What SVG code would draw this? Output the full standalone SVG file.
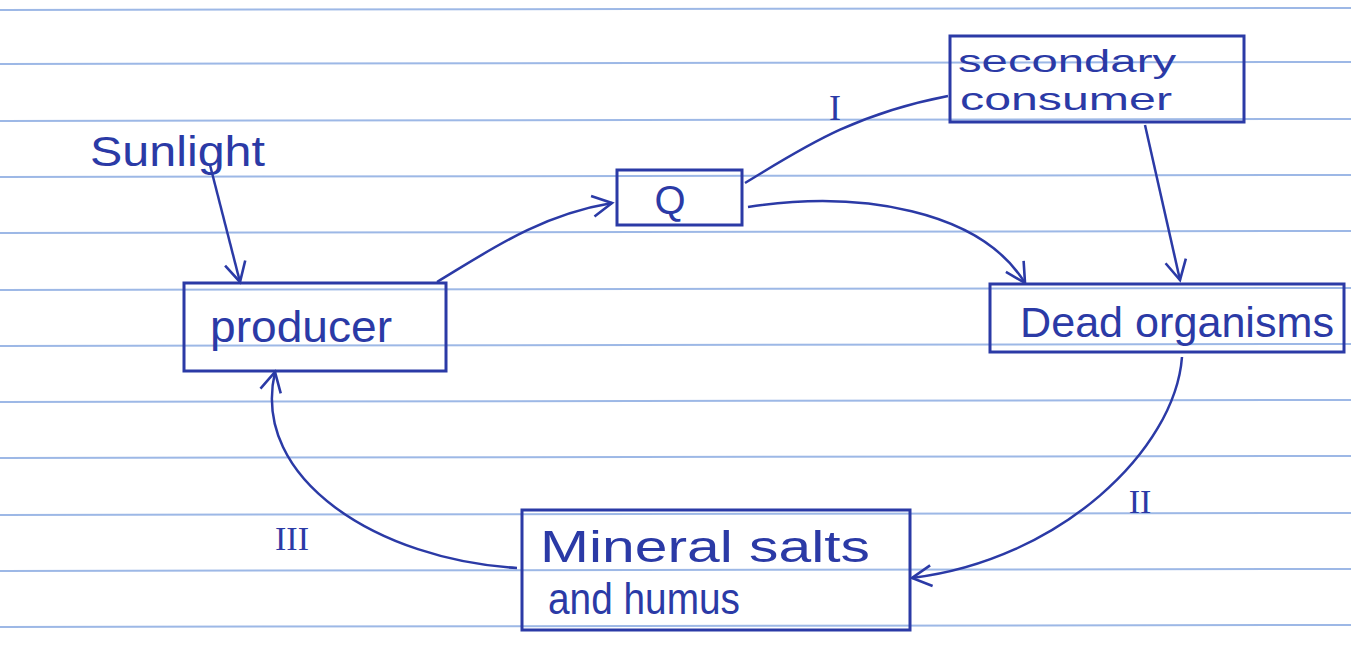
<svg xmlns="http://www.w3.org/2000/svg" width="1351" height="671" viewBox="0 0 1351 671">
<style>
.paper{stroke:#9db8e6;stroke-width:2}
.box{fill:none;stroke:#2b3aa6;stroke-width:3}
.ink{font-family:"Liberation Sans",Arial,sans-serif;fill:#2b3aa6}
.num{font-family:"Liberation Serif","Times New Roman",serif;fill:#2b3aa6}
.edge{fill:none;stroke:#2b3aa6;stroke-width:2.5}
</style>
<defs>
<marker id="arr" viewBox="0 0 20 20" refX="18" refY="10" markerWidth="26" markerHeight="26" markerUnits="userSpaceOnUse" orient="auto">
<path d="M3,2 L18,10 L3,18" fill="none" stroke="#2b3aa6" stroke-width="2"/>
</marker>
</defs>
<rect width="1351" height="671" fill="#ffffff"/>
<g id="paper">
<line class="paper" x1="0" y1="10" x2="1351" y2="8"/>
<line class="paper" x1="0" y1="64" x2="1351" y2="62"/>
<line class="paper" x1="0" y1="121" x2="1351" y2="119"/>
<line class="paper" x1="0" y1="177" x2="1351" y2="175"/>
<line class="paper" x1="0" y1="233" x2="1351" y2="231"/>
<line class="paper" x1="0" y1="290" x2="1351" y2="288"/>
<line class="paper" x1="0" y1="346" x2="1351" y2="344"/>
<line class="paper" x1="0" y1="402" x2="1351" y2="400"/>
<line class="paper" x1="0" y1="458" x2="1351" y2="456"/>
<line class="paper" x1="0" y1="515" x2="1351" y2="513"/>
<line class="paper" x1="0" y1="571" x2="1351" y2="569"/>
<line class="paper" x1="0" y1="627" x2="1351" y2="625"/>
</g>
<g id="connectors">
<path class="edge" d="M210,165 L240,282" marker-end="url(#arr)"/>
<path class="edge" d="M437,282 C490,250 540,215 612,203" marker-end="url(#arr)"/>
<path class="edge" d="M748,207 C860,190 980,210 1025,283" marker-end="url(#arr)"/>
<path class="edge" d="M745,183 C800,150 850,115 948,96"/>
<path class="edge" d="M1145,125 L1180,280" marker-end="url(#arr)"/>
<path class="edge" d="M1182,357 C1175,450 1060,560 912,578" marker-end="url(#arr)"/>
<path class="edge" d="M517,568 C380,560 250,480 275,372" marker-end="url(#arr)"/>
<text class="num" x="835" y="120" font-size="36" text-anchor="middle">I</text>
<text class="num" x="1140" y="513" font-size="34" text-anchor="middle">II</text>
<text class="num" x="292" y="550" font-size="34" text-anchor="middle">III</text>
</g>
<g id="sunlight">
<text class="ink" x="90" y="166" font-size="42" textLength="175" lengthAdjust="spacingAndGlyphs">Sunlight</text>
</g>
<g id="secondary-consumer">
<rect class="box" x="950" y="36" width="294" height="86"/>
<text class="ink" x="958" y="72" font-size="32" textLength="218" lengthAdjust="spacingAndGlyphs">secondary</text>
<text class="ink" x="960" y="110" font-size="32" textLength="212" lengthAdjust="spacingAndGlyphs">consumer</text>
</g>
<g id="q">
<rect class="box" x="617" y="170" width="125" height="55"/>
<text class="ink" x="670" y="214" font-size="40" text-anchor="middle">Q</text>
</g>
<g id="producer">
<rect class="box" x="184" y="283" width="262" height="88"/>
<text class="ink" x="210" y="342" font-size="44" textLength="182" lengthAdjust="spacingAndGlyphs">producer</text>
</g>
<g id="dead-organisms">
<rect class="box" x="990" y="284" width="354" height="68"/>
<text class="ink" x="1020" y="337" font-size="42" textLength="314" lengthAdjust="spacingAndGlyphs">Dead organisms</text>
</g>
<g id="mineral-salts">
<rect class="box" x="522" y="510" width="388" height="120"/>
<text class="ink" x="540" y="562" font-size="44" textLength="330" lengthAdjust="spacingAndGlyphs">Mineral salts</text>
<text class="ink" x="548" y="614" font-size="44" textLength="192" lengthAdjust="spacingAndGlyphs">and humus</text>
</g>
</svg>
